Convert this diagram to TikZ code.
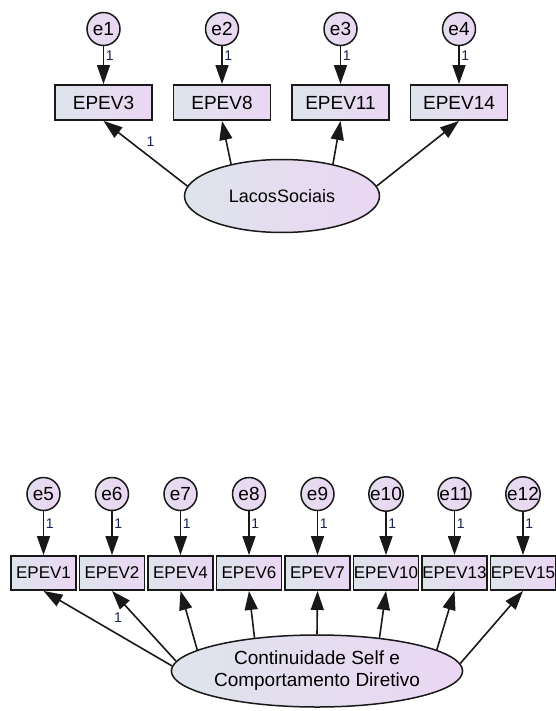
\documentclass[tikz,border=0pt]{standalone}
\usepackage{fontspec}
\setmainfont{Liberation Sans}
\usepackage{tikz}
\usetikzlibrary{shapes.geometric}
\usetikzlibrary{arrows.meta}
\definecolor{shadeL}{RGB}{222,228,236}
\definecolor{shadeR}{RGB}{235,214,243}
\definecolor{inkgray}{RGB}{25,25,25}
\definecolor{parblue}{RGB}{25,35,80}

\begin{document}
\begin{tikzpicture}[x=1pt,y=-1pt,
    obs/.style={draw=inkgray,line width=1.9pt,left color=shadeL,right color=shadeR,inner sep=0pt,minimum height=35pt,minimum width=97pt,font=\fontsize{19}{19}\selectfont},
    obsb/.style={obs,minimum height=34pt,minimum width=65pt,font=\fontsize{17}{17}\selectfont},
    err/.style={circle,draw=inkgray,line width=1.5pt,left color=shadeL!50!shadeR,right color=shadeR,inner sep=0pt,minimum size=33pt,font=\fontsize{19}{19}\selectfont},
    lat/.style={ellipse,draw=inkgray,line width=1.5pt,left color=shadeL,right color=shadeR,inner sep=0pt,align=center,font=\fontsize{19}{22}\selectfont},
    load/.style={-{Triangle[length=19pt,width=13pt]},line width=1.6pt,draw=inkgray},
    one/.style={font=\fontsize{14}{14}\selectfont,text=parblue,inner sep=1.5pt}]
    \useasboundingbox (0,0) rectangle (555,711);
    % first factor
    \node[err] (e1) at (103.5,29) {e1};
    \node[err] (e2) at (222,29) {e2};
    \node[err] (e3) at (340.5,29) {e3};
    \node[err] (e4) at (459,29) {e4};
    \node[obs] (v3) at (103.5,102.5) {EPEV3};
    \node[obs] (v8) at (222,102.5) {EPEV8};
    \node[obs] (v11) at (340.5,102.5) {EPEV11};
    \node[obs] (v14) at (459,102.5) {EPEV14};
    \node[lat,minimum width=195pt,minimum height=73pt,font=\fontsize{18}{18}\selectfont] (laco) at (282,196) {LacosSociais};
    \draw[load] (e1) -- node[one,pos=.25,right]{1} (v3);
    \draw[load] (e2) -- node[one,pos=.25,right]{1} (v8);
    \draw[load] (e3) -- node[one,pos=.25,right]{1} (v11);
    \draw[load] (e4) -- node[one,pos=.25,right]{1} (v14);
    \draw[load] (laco.174) -- node[one,pos=.68,right=14pt]{1} (v3.south);
    \draw[load] (laco.148) -- (v8.south);
    \draw[load] (laco.32) -- (v11.south);
    \draw[load] (laco.6) -- (v14.south);
    % second factor
    \node[err] (e5) at (43.5,494) {e5};
    \node[err] (e6) at (112,494) {e6};
    \node[err] (e7) at (180.5,494) {e7};
    \node[err] (e8) at (249,494) {e8};
    \node[err] (e9) at (317.5,494) {e9};
    \node[err] (e10) at (386,494) {e10};
    \node[err] (e11) at (454.5,494) {e11};
    \node[err] (e12) at (523,494) {e12};
    \node[obsb] (v1) at (43.5,573) {EPEV1};
    \node[obsb] (v2) at (112,573) {EPEV2};
    \node[obsb] (v4) at (180.5,573) {EPEV4};
    \node[obsb] (v6) at (249,573) {EPEV6};
    \node[obsb] (v7) at (317.5,573) {EPEV7};
    \node[obsb] (v10) at (386,573) {EPEV10};
    \node[obsb] (v13) at (454.5,573) {EPEV13};
    \node[obsb] (v15) at (523,573) {EPEV15};
    \node[lat,minimum width=265pt,minimum height=72pt] (cont) at (317,671) {Continuidade Self e\\Comportamento Diretivo};
    \draw[load] (e5) -- node[one,pos=.28,right]{1} (v1);
    \draw[load] (e6) -- node[one,pos=.28,right]{1} (v2);
    \draw[load] (e7) -- node[one,pos=.28,right]{1} (v4);
    \draw[load] (e8) -- node[one,pos=.28,right]{1} (v6);
    \draw[load] (e9) -- node[one,pos=.28,right]{1} (v7);
    \draw[load] (e10) -- node[one,pos=.28,right]{1} (v10);
    \draw[load] (e11) -- node[one,pos=.28,right]{1} (v13);
    \draw[load] (e12) -- node[one,pos=.28,right]{1} (v15);
    \draw[load] (cont.178) -- (v1.south);
    \draw[load] (cont.176) -- node[one,pos=.62,left=12pt]{1} (v2.south);
    \draw[load] (cont.170) -- (v4.south);
    \draw[load] (cont.152) -- (v6.south);
    \draw[load] (cont.90) -- (v7.south);
    \draw[load] (cont.28) -- (v10.south);
    \draw[load] (cont.10) -- (v13.south);
    \draw[load] (cont.3) -- (v15.south);
\end{tikzpicture}
\end{document}
